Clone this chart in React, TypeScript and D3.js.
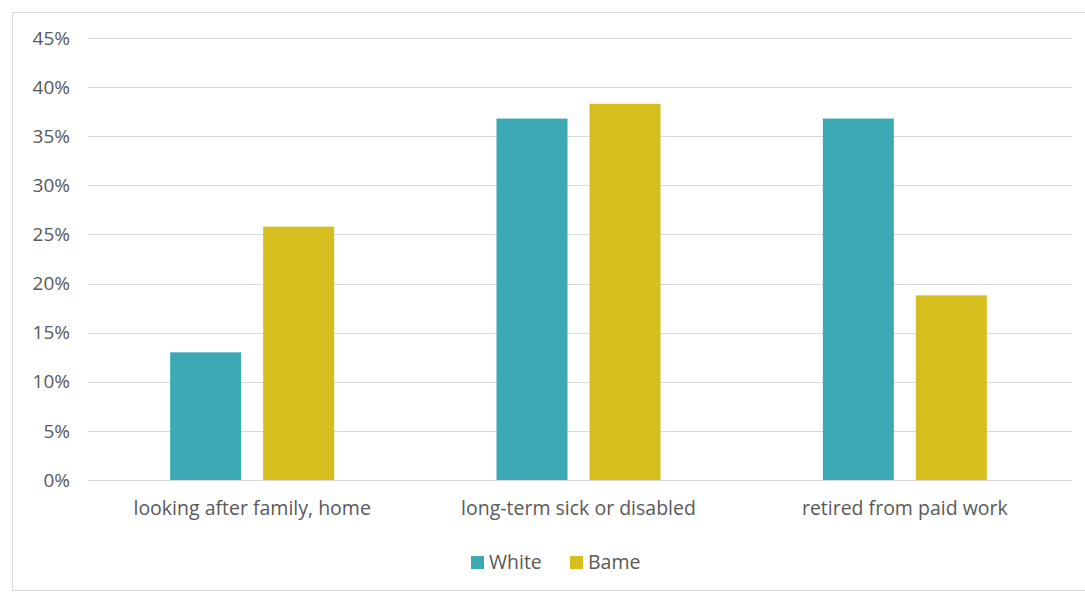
import React from "react";
import * as d3 from "d3";

const categories = ["looking after family, home", "long-term sick or disabled", "retired from paid work"];
const seriesNames = ["White", "Bame"];
const whiteValues = [13.0, 36.8, 36.8];
const bameValues = [25.8, 38.3, 18.8];
const yTicks = [0, 5, 10, 15, 20, 25, 30, 35, 40, 45];
const colors = ["#3DA9B4", "#D6BE1F"];

export default function App() {
  const W = 1085, H = 594;
  const x0 = d3.scaleBand().domain(categories).range([89, 1068]).paddingInner(0).paddingOuter(0);
  const y = d3.scaleLinear().domain([0, 45]).range([480, 38]);
  const bw = 71, gap = 22;
  const series = [whiteValues, bameValues];
  const textColor = "#595959";
  const font = "'Open Sans', 'Liberation Sans', sans-serif";
  return (
    <svg width={W} height={H} style={{ position: "absolute", left: 0, top: 0, background: "#fff" }} fontFamily={font}>
      <rect x={12.5} y={12.5} width={1090} height={578} fill="#fff" stroke="#D9D9D9" strokeWidth={1} />
      {yTicks.map((t) => (
        <g key={t}>
          <line x1={88} x2={1072} y1={Math.round(y(t)) + 0.5} y2={Math.round(y(t)) + 0.5} stroke="#D9D9D9" strokeWidth={1} />
          <text x={70} y={y(t)} dy="0.35em" textAnchor="end" fontSize={19} fill={textColor}>{t}%</text>
        </g>
      ))}
      {categories.map((c, i) => {
        const cx = (x0(c) as number) + x0.bandwidth() / 2;
        return (
          <g key={c}>
            {series.map((vals, s) => {
              const bx = s === 0 ? cx - gap / 2 - bw : cx + gap / 2;
              return <rect key={s} x={bx} y={y(vals[i])} width={bw} height={y(0) - y(vals[i])} fill={colors[s]} />;
            })}
            <text x={cx} y={508} textAnchor="middle" dy="0.35em" fontSize={19.5} fill={textColor}>{c}</text>
          </g>
        );
      })}
      <g>
        <rect x={471} y={556} width={13} height={13} fill={colors[0]} />
        <text x={489} y={562} dy="0.35em" fontSize={19.5} fill={textColor}>{seriesNames[0]}</text>
        <rect x={570} y={556} width={13} height={13} fill={colors[1]} />
        <text x={588} y={562} dy="0.35em" fontSize={19.5} fill={textColor}>{seriesNames[1]}</text>
      </g>
    </svg>
  );
}
